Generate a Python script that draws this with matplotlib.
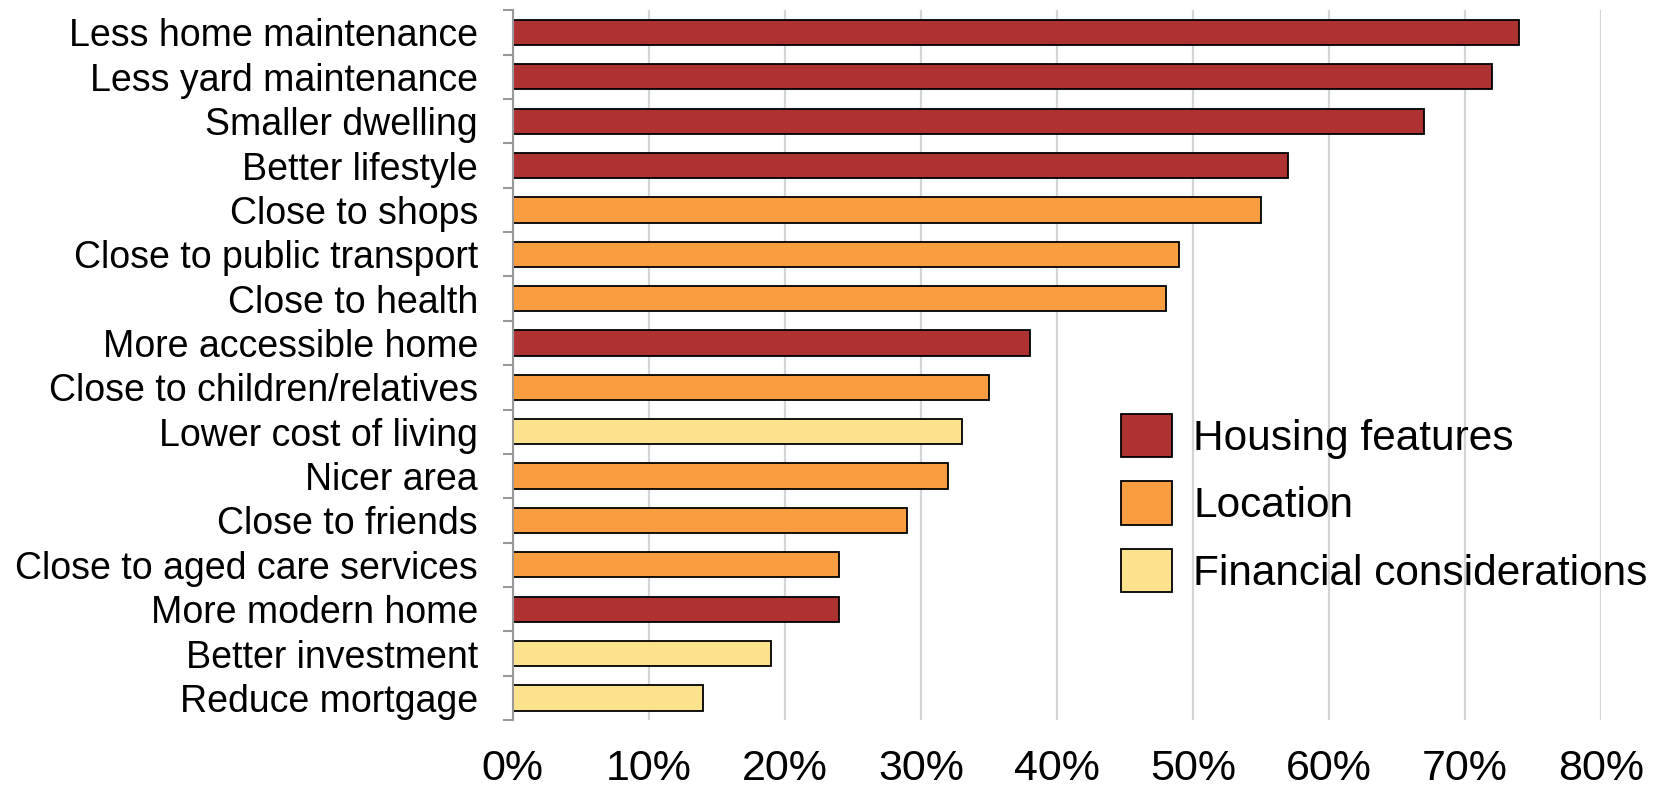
import matplotlib.pyplot as plt
import numpy as np
from matplotlib import font_manager
from matplotlib.patches import Patch

categories = [
    "Less home maintenance", "Less yard maintenance", "Smaller dwelling",
    "Better lifestyle", "Close to shops", "Close to public transport",
    "Close to health", "More accessible home", "Close to children/relatives",
    "Lower cost of living", "Nicer area", "Close to friends",
    "Close to aged care services", "More modern home", "Better investment",
    "Reduce mortgage",
]
values = [74, 72, 67, 57, 55, 49, 48, 38, 35, 33, 32, 29, 24, 24, 19, 14]
groups = ["H", "H", "H", "H", "L", "L", "L", "H", "L", "F", "L", "L", "L", "H", "F", "F"]

group_names = {"H": "Housing features", "L": "Location", "F": "Financial considerations"}
group_colors = {"H": "#AE3232", "L": "#F99E40", "F": "#FDE28E"}

xticks = [0, 10, 20, 30, 40, 50, 60, 70, 80]

installed = {f.name for f in font_manager.fontManager.ttflist}
main_font = "Liberation Sans" if "Liberation Sans" in installed else "DejaVu Sans"
plt.rcParams["font.family"] = [main_font, "DejaVu Sans"]

fig = plt.figure(figsize=(16.54, 7.93), dpi=100)
ax = fig.add_axes([0.310, 0.092, 0.658, 0.895])

y = np.arange(len(categories))
ax.barh(y, values, height=0.57, color=[group_colors[g] for g in groups],
        edgecolor="black", linewidth=1.3, zorder=3)

ax.set_ylim(len(categories) - 0.5, -0.5)
ax.set_xlim(0, 80)

# category labels centred on bars, short grey ticks between categories
ax.set_yticks(y)
ax.set_yticklabels(categories, fontsize=27)
ax.set_yticks(np.arange(-0.5, len(categories)), minor=True)
ax.tick_params(axis="y", which="major", length=0, pad=25)
ax.tick_params(axis="y", which="minor", length=7, width=1.5, color="#999999")

ax.set_xticks(xticks)
ax.set_xticklabels([f"{t}%" for t in xticks], fontsize=31)
ax.tick_params(axis="x", length=0, pad=21)

ax.grid(axis="x", color="#D2D4D8", linewidth=1.6, zorder=0)
for side in ["top", "right", "bottom"]:
    ax.spines[side].set_visible(False)
ax.spines["left"].set_color("#999999")
ax.spines["left"].set_linewidth(1.5)
ax.spines["left"].set_zorder(4)

handles = [Patch(facecolor=group_colors[k], edgecolor="black", linewidth=1.3, label=group_names[k])
           for k in ["H", "L", "F"]]
leg = fig.legend(handles=handles, loc="upper left", bbox_to_anchor=(0.678, 0.478),
                 frameon=False, fontsize=30.5, handlelength=1.2, handleheight=1.2,
                 handletextpad=0.5, labelspacing=0.53, borderpad=0, borderaxespad=0)
leg.set_zorder(5)

fig.savefig("out.png", dpi=100, facecolor="white")
